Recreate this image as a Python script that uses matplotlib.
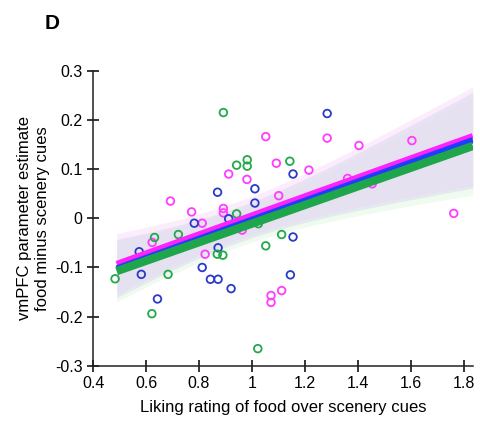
import numpy as np
import matplotlib.pyplot as plt

plt.rcParams['font.family'] = ['Liberation Sans', 'DejaVu Sans']

# Liking rating (x) and vmPFC parameter estimate (y), one group per colour
pink_x = [0.692, 0.772, 0.812, 0.892, 0.892, 0.912, 0.981, 1.052, 1.092, 1.101,
          0.963, 0.623, 0.823, 1.072, 1.072, 1.112, 1.215, 1.284, 1.404, 1.604,
          1.762, 1.361, 1.454]
pink_y = [0.035, 0.013, -0.010, 0.020, 0.011, 0.090, 0.079, 0.166, 0.112, 0.046,
          -0.024, -0.049, -0.073, -0.157, -0.171, -0.147, 0.098, 0.163, 0.148, 0.158,
          0.010, 0.081, 0.070]

blue_x = [0.782, 0.870, 1.011, 1.011, 0.912, 1.155, 1.284, 0.574, 0.582, 0.643,
          0.812, 0.843, 0.872, 0.872, 0.921, 1.145, 1.155]
blue_y = [-0.010, 0.053, 0.060, 0.031, -0.001, 0.090, 0.213, -0.068, -0.114, -0.164,
          -0.100, -0.124, -0.124, -0.060, -0.143, -0.115, -0.038]

green_x = [0.892, 0.942, 0.982, 0.982, 1.143, 0.942, 1.024, 0.722, 0.632, 1.112,
           1.052, 0.869, 0.890, 0.483, 0.683, 0.622, 1.022]
green_y = [0.215, 0.108, 0.119, 0.106, 0.116, 0.009, -0.011, -0.033, -0.039, -0.033,
           -0.056, -0.073, -0.075, -0.123, -0.114, -0.194, -0.265]

# model fit per group: intercept, slope
fit_icpt = [-0.1875, -0.1970, -0.2000]
fit_slope = [0.1933, 0.1940, 0.1892]
# 95% band half width: sqrt(band_a + band_b * (x - band_x0)^2)
band_x0 = [0.95, 0.95, 0.96]
band_a = [0.0015, 0.0013, 0.0014]
band_b = [0.0110, 0.0105, 0.0112]

fit_x = [0.489, 1.834]

point_colors = ['#ff3cff', '#2a3ac8', '#22aa4a']
line_colors = ['#ff22ff', '#1f3dff', '#1fa64c']
band_colors = ['#f8d8f8', '#d8d8ee', '#e2f8e2']
band_alpha = [0.45, 0.5, 0.5]
line_widths = [4.5, 4.5, 6.0]

xs_all = [pink_x, blue_x, green_x]
ys_all = [pink_y, blue_y, green_y]

fig = plt.figure(figsize=(4.8, 4.21), dpi=100)
ax = fig.add_axes([0.194, 0.131, 0.791, 0.701])

xs = np.linspace(fit_x[0], fit_x[1], 200)

# bands: green, pink, then blue on top
for i in [2, 0, 1]:
    fit = fit_icpt[i] + fit_slope[i] * xs
    hw = np.sqrt(band_a[i] + band_b[i] * (xs - band_x0[i]) ** 2)
    ax.fill_between(xs, fit - hw, fit + hw, color=band_colors[i],
                    alpha=band_alpha[i], lw=0, zorder=1)

for i in range(3):
    ax.scatter(xs_all[i], ys_all[i], s=30, facecolors='none',
               edgecolors=point_colors[i], linewidths=1.3, zorder=2)

for i in range(3):
    ax.plot(xs, fit_icpt[i] + fit_slope[i] * xs, color=line_colors[i],
            lw=line_widths[i], solid_capstyle='butt', zorder=3)

ax.set_xlim(0.4, 1.834)
ax.set_ylim(-0.3, 0.3)
ax.set_xticks([0.4, 0.6, 0.8, 1.0, 1.2, 1.4, 1.6, 1.8])
ax.set_xticklabels(['0.4', '0.6', '0.8', '1', '1.2', '1.4', '1.6', '1.8'])
ax.set_yticks([-0.3, -0.2, -0.1, 0, 0.1, 0.2, 0.3])
ax.set_yticklabels(['-0.3', '-0.2', '-0.1', '0', '0.1', '0.2', '0.3'])
ax.tick_params(direction='inout', length=9, width=1.1, labelsize=11.5, pad=3)

for side in ['top', 'right']:
    ax.spines[side].set_visible(False)
for side in ['left', 'bottom']:
    ax.spines[side].set_linewidth(1.1)
    ax.spines[side].set_color('#222222')

ax.set_xlabel('Liking rating of food over scenery cues', fontsize=12, labelpad=6)
ax.set_ylabel('vmPFC parameter estimate\nfood minus scenery cues', fontsize=12, labelpad=4)

fig.text(0.094, 0.943, 'D', fontsize=15, fontweight='bold', va='center')

fig.savefig('out.png', dpi=100)
